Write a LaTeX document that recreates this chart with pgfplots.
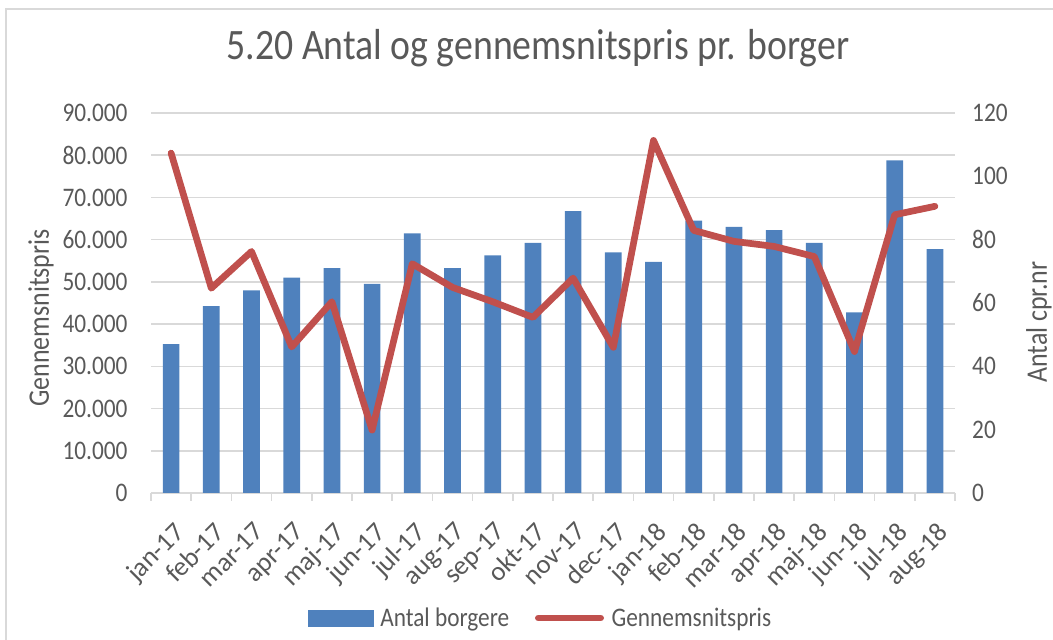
\documentclass[border=0pt]{standalone}
\usepackage{pgfplots}
\pgfplotsset{compat=1.18}
\usepackage{fontspec}
\setmainfont{Carlito}[FakeStretch=0.87]
\newfontfamily\plainfont{Carlito}
\definecolor{barblue}{HTML}{4F81BD}
\definecolor{linered}{HTML}{C0504D}
\definecolor{txt}{HTML}{595959}
\definecolor{gridc}{HTML}{D9D9D9}

\pgfplotstableread{
x bars price
0 47 80500
1 59 48500
2 64 57200
3 68 34600
4 71 45300
5 66 14900
6 82 54300
7 71 48700
8 75 45300
9 79 41600
10 89 50900
11 76 34500
12 73 83500
13 86 62200
14 84 59600
15 83 58400
16 79 56000
17 57 33500
18 105 65900
19 77 67900
}\datatable

\begin{document}
\begin{tikzpicture}[x=1pt,y=1pt]
\useasboundingbox (0,0) rectangle (1053,640);
\draw[gridc, line width=2pt] (6,0) -- (6,631) -- (1053,631);
\node[anchor=base, text=txt, font=\fontsize{43.4}{50}\selectfont] at (538,580) {5.20 Antal og gennemsnitspris pr. borger};
\node[rotate=90, inner sep=0pt, text=txt, font=\fontsize{29.8}{34}\selectfont] at (41,322) {Gennemsnitspris};
\node[rotate=90, inner sep=0pt, text=txt, font=\fontsize{29.8}{34}\selectfont] at (1039,318) {Antal cpr.nr};

\pgfplotsset{base/.style={
  at={(151pt,147pt)}, anchor=south west, scale only axis,
  width=804pt, height=380pt, xmin=-0.5, xmax=19.5,
  /pgf/number format/assume math mode=true,
  tick label style={text=txt, font=\fontsize{26.8}{31}\selectfont},
}}

% axis 0: grid, x axis, left ticks
\begin{axis}[base,
  ymin=0, ymax=90000, ytick={0,10000,...,90000},
  scaled y ticks=false,
  /pgf/number format/1000 sep={.}, /pgf/number format/fixed,
  ymajorgrids, major grid style={gridc, line width=1.5pt},
  axis y line*=left, axis x line*=bottom,
  y axis line style={draw=none}, x axis line style={gridc, line width=1.5pt, -},
  ytick style={draw=none},
  xtick={0,...,19},
  xticklabels={jan-17,feb-17,mar-17,apr-17,maj-17,jun-17,jul-17,aug-17,sep-17,okt-17,nov-17,dec-17,jan-18,feb-18,mar-18,apr-18,maj-18,jun-18,jul-18,aug-18},
  xticklabel style={anchor=north east, inner sep=1pt, xshift=1.5pt, yshift=-22pt, rotate=45,
    font=\plainfont\fontsize{26.8}{31}\selectfont},
  major x tick style={draw=none},
  minor xtick={-0.5,0.5,...,19.5},
  minor x tick style={gridc, line width=1.5pt},
  minor tick length=8pt, tick align=outside,
  yticklabel style={anchor=east, inner sep=0pt, xshift=-19pt},
]
\end{axis}

% axis 1: bars, right ticks
\begin{axis}[base,
  ymin=0, ymax=120, ytick={0,20,...,120},
  axis y line*=right, axis x line=none,
  y axis line style={draw=none}, ytick style={draw=none},
  yticklabel style={anchor=west, inner sep=0pt, xshift=17pt},
  ybar, bar width=16.7pt,
]
\addplot[fill=barblue, draw=none] table[x=x, y=bars] {\datatable};
\end{axis}

% axis 2: line on left scale, legend
\begin{axis}[base,
  ymin=0, ymax=90000, hide axis,
  legend style={at={(0.1915,-0.329)}, anchor=west, draw=none, fill=none,
    legend columns=2, font=\fontsize{26.8}{31}\selectfont, text=txt,
    nodes={inner sep=0pt},
    /tikz/every odd column/.append style={column sep=4.3pt},
    /tikz/every even column/.append style={column sep=22.4pt}},
  legend cell align=left,
]
\addlegendimage{legend image code/.code={\fill[barblue] (0pt,-8pt) rectangle (65pt,8pt); \path (67.4pt,0pt);}}
\addlegendentry{Antal borgere}
\addplot[linered, line width=6.7pt, line join=round, line cap=round,
  legend image code/.code={\draw[linered, line width=6.7pt, line cap=round] (3.35pt,0pt) -- (65.65pt,0pt); \path (0pt,0pt) (69pt,0pt);}]
  table[x=x, y=price] {\datatable};
\addlegendentry{Gennemsnitspris}
\end{axis}
\end{tikzpicture}
\end{document}
